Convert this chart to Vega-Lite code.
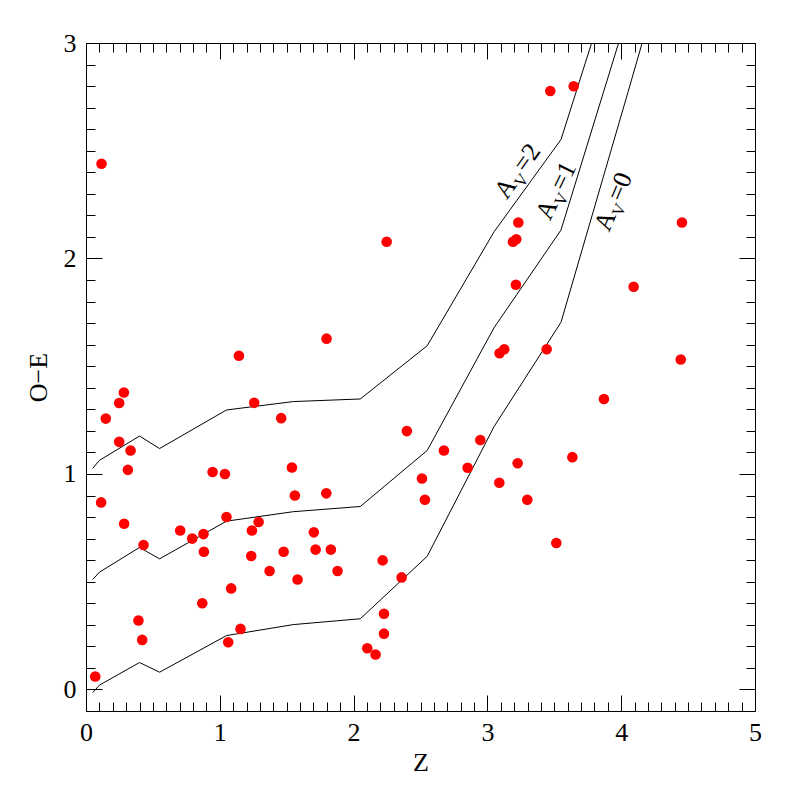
{
  "$schema": "https://vega.github.io/schema/vega-lite/v6.json",
  "width": 669,
  "height": 668,
  "autosize": {"type": "none"},
  "padding": {"left": 86, "top": 43, "right": 42, "bottom": 86},
  "background": "white",
  "config": {"view": {"stroke": null}, "font": "Liberation Serif"},
  "datasets": {
    "points": [
      {"z": 0.116, "oe": 2.44}, {"z": 0.069, "oe": 0.06}, {"z": 0.113, "oe": 0.868}, {"z": 0.148, "oe": 1.257},
      {"z": 0.248, "oe": 1.329}, {"z": 0.283, "oe": 1.378}, {"z": 0.248, "oe": 1.149}, {"z": 0.333, "oe": 1.109},
      {"z": 0.313, "oe": 1.019}, {"z": 0.285, "oe": 0.769}, {"z": 0.43, "oe": 0.67}, {"z": 0.392, "oe": 0.32},
      {"z": 0.42, "oe": 0.23}, {"z": 0.704, "oe": 0.738}, {"z": 0.794, "oe": 0.7}, {"z": 0.878, "oe": 0.721},
      {"z": 0.881, "oe": 0.639}, {"z": 0.869, "oe": 0.4}, {"z": 0.946, "oe": 1.009}, {"z": 1.038, "oe": 1.0},
      {"z": 1.05, "oe": 0.8}, {"z": 1.085, "oe": 0.469}, {"z": 1.063, "oe": 0.219}, {"z": 1.155, "oe": 0.281},
      {"z": 1.143, "oe": 1.549}, {"z": 1.257, "oe": 1.33}, {"z": 1.24, "oe": 0.738}, {"z": 1.29, "oe": 0.777},
      {"z": 1.235, "oe": 0.619}, {"z": 1.372, "oe": 0.55}, {"z": 1.477, "oe": 0.639}, {"z": 1.459, "oe": 1.259},
      {"z": 1.539, "oe": 1.03}, {"z": 1.561, "oe": 0.9}, {"z": 1.581, "oe": 0.51}, {"z": 1.703, "oe": 0.729},
      {"z": 1.716, "oe": 0.649}, {"z": 1.83, "oe": 0.649}, {"z": 1.88, "oe": 0.55}, {"z": 1.796, "oe": 0.91},
      {"z": 1.798, "oe": 1.628}, {"z": 2.247, "oe": 2.078}, {"z": 2.102, "oe": 0.191}, {"z": 2.164, "oe": 0.162},
      {"z": 2.217, "oe": 0.599}, {"z": 2.227, "oe": 0.351}, {"z": 2.227, "oe": 0.259}, {"z": 2.359, "oe": 0.52},
      {"z": 2.398, "oe": 1.199}, {"z": 2.511, "oe": 0.979}, {"z": 2.533, "oe": 0.88}, {"z": 2.675, "oe": 1.109},
      {"z": 2.852, "oe": 1.029}, {"z": 2.947, "oe": 1.158}, {"z": 3.089, "oe": 0.959}, {"z": 3.091, "oe": 1.56},
      {"z": 3.126, "oe": 1.579}, {"z": 3.191, "oe": 2.078}, {"z": 3.216, "oe": 2.089}, {"z": 3.231, "oe": 2.167},
      {"z": 3.213, "oe": 1.878}, {"z": 3.226, "oe": 1.05}, {"z": 3.298, "oe": 0.88}, {"z": 3.443, "oe": 1.579},
      {"z": 3.47, "oe": 2.777}, {"z": 3.515, "oe": 0.68}, {"z": 3.635, "oe": 1.078}, {"z": 3.645, "oe": 2.799},
      {"z": 3.871, "oe": 1.348}, {"z": 4.093, "oe": 1.869}, {"z": 4.445, "oe": 1.531}, {"z": 4.454, "oe": 2.167}
    ],
    "curves": [
      {"av": 0, "z": 0.05, "oe": -0.015}, {"av": 0, "z": 0.1, "oe": 0.02}, {"av": 0, "z": 0.4, "oe": 0.125},
      {"av": 0, "z": 0.55, "oe": 0.08}, {"av": 0, "z": 1.05, "oe": 0.25}, {"av": 0, "z": 1.55, "oe": 0.301},
      {"av": 0, "z": 2.05, "oe": 0.328}, {"av": 0, "z": 2.55, "oe": 0.618}, {"av": 0, "z": 3.05, "oe": 1.22},
      {"av": 0, "z": 3.55, "oe": 1.704}, {"av": 0, "z": 4.05, "oe": 2.77}, {"av": 0, "z": 4.55, "oe": 3.85},
      {"av": 1, "z": 0.05, "oe": 0.51}, {"av": 1, "z": 0.1, "oe": 0.544}, {"av": 1, "z": 0.4, "oe": 0.659},
      {"av": 1, "z": 0.55, "oe": 0.606}, {"av": 1, "z": 1.05, "oe": 0.781}, {"av": 1, "z": 1.55, "oe": 0.825},
      {"av": 1, "z": 2.05, "oe": 0.849}, {"av": 1, "z": 2.55, "oe": 1.109}, {"av": 1, "z": 3.05, "oe": 1.679},
      {"av": 1, "z": 3.55, "oe": 2.132}, {"av": 1, "z": 4.05, "oe": 3.14},
      {"av": 2, "z": 0.05, "oe": 1.026}, {"av": 2, "z": 0.1, "oe": 1.063}, {"av": 2, "z": 0.4, "oe": 1.176},
      {"av": 2, "z": 0.55, "oe": 1.118}, {"av": 2, "z": 1.05, "oe": 1.297}, {"av": 2, "z": 1.55, "oe": 1.336},
      {"av": 2, "z": 2.05, "oe": 1.348}, {"av": 2, "z": 2.55, "oe": 1.595}, {"av": 2, "z": 3.05, "oe": 2.124},
      {"av": 2, "z": 3.55, "oe": 2.552}, {"av": 2, "z": 4.05, "oe": 3.53}
    ],
    "labels": [
      {"eq": "=2", "z": 3.225, "oe": 2.34, "angle": -55},
      {"eq": "=1", "z": 3.53, "oe": 2.25, "angle": -64},
      {"eq": "=0", "z": 3.963, "oe": 2.2, "angle": -67}
    ]
  },
  "resolve": {"axis": {"x": "independent", "y": "independent"}},
  "layer": [
    {
      "data": {"name": "curves"},
      "mark": {"type": "line", "color": "black", "strokeWidth": 1, "clip": true},
      "encoding": {
        "x": {"field": "z", "type": "quantitative", "scale": {"domain": [0, 5], "nice": false, "zero": false},
          "axis": {"orient": "top", "title": null, "labels": false, "grid": false, "domainColor": "black", "tickColor": "black",
            "values": [0,0.1,0.2,0.3,0.4,0.5,0.6,0.7,0.8,0.9,1,1.1,1.2,1.3,1.4,1.5,1.6,1.7,1.8,1.9,2,2.1,2.2,2.3,2.4,2.5,2.6,2.7,2.8,2.9,3,3.1,3.2,3.3,3.4,3.5,3.6,3.7,3.8,3.9,4,4.1,4.2,4.3,4.4,4.5,4.6,4.7,4.8,4.9,5],
            "tickSize": {"condition": {"test": "abs(datum.value - round(datum.value)) < 0.001", "value": -16}, "value": -9}}},
        "y": {"field": "oe", "type": "quantitative", "scale": {"domain": [-0.1, 3], "nice": false, "zero": false},
          "axis": {"orient": "right", "title": null, "labels": false, "grid": false, "domainColor": "black", "tickColor": "black",
            "values": [0,0.1,0.2,0.3,0.4,0.5,0.6,0.7,0.8,0.9,1,1.1,1.2,1.3,1.4,1.5,1.6,1.7,1.8,1.9,2,2.1,2.2,2.3,2.4,2.5,2.6,2.7,2.8,2.9,3],
            "tickSize": {"condition": {"test": "abs(datum.value - round(datum.value)) < 0.001", "value": -16}, "value": -9}}},
        "detail": {"field": "av", "type": "nominal"}
      }
    },
    {
      "data": {"name": "points"},
      "mark": {"type": "circle", "color": "#ff0000", "opacity": 1, "size": 112},
      "encoding": {
        "x": {"field": "z", "type": "quantitative", "scale": {"domain": [0, 5], "nice": false, "zero": false},
          "axis": {"orient": "bottom", "title": "Z", "grid": false, "domainColor": "black", "tickColor": "black",
            "values": [0,0.1,0.2,0.3,0.4,0.5,0.6,0.7,0.8,0.9,1,1.1,1.2,1.3,1.4,1.5,1.6,1.7,1.8,1.9,2,2.1,2.2,2.3,2.4,2.5,2.6,2.7,2.8,2.9,3,3.1,3.2,3.3,3.4,3.5,3.6,3.7,3.8,3.9,4,4.1,4.2,4.3,4.4,4.5,4.6,4.7,4.8,4.9,5],
            "tickSize": {"condition": {"test": "abs(datum.value - round(datum.value)) < 0.001", "value": -16}, "value": -9},
            "labelExpr": "abs(datum.value - round(datum.value)) < 0.001 ? format(datum.value, 'd') : ''",
            "labelFont": "Liberation Serif", "labelFontSize": 26, "labelColor": "black", "labelPadding": 24, "labelFlush": false,
            "titleFont": "Liberation Serif", "titleFontSize": 26, "titleFontWeight": "normal", "titleColor": "black", "titlePadding": 4}},
        "y": {"field": "oe", "type": "quantitative", "scale": {"domain": [-0.1, 3], "nice": false, "zero": false},
          "axis": {"orient": "left", "title": "O−E", "grid": false, "domainColor": "black", "tickColor": "black",
            "values": [0,0.1,0.2,0.3,0.4,0.5,0.6,0.7,0.8,0.9,1,1.1,1.2,1.3,1.4,1.5,1.6,1.7,1.8,1.9,2,2.1,2.2,2.3,2.4,2.5,2.6,2.7,2.8,2.9,3],
            "tickSize": {"condition": {"test": "abs(datum.value - round(datum.value)) < 0.001", "value": -16}, "value": -9},
            "labelExpr": "abs(datum.value - round(datum.value)) < 0.001 ? format(datum.value, 'd') : ''",
            "labelFont": "Liberation Serif", "labelFontSize": 26, "labelColor": "black", "labelPadding": 26, "labelFlush": false,
            "titleFont": "Liberation Serif", "titleFontSize": 26, "titleFontWeight": "normal", "titleColor": "black", "titlePadding": 12}}
      }
    },
    {
      "data": {"name": "labels"},
      "mark": {"type": "text", "text": "A", "align": "right", "baseline": "alphabetic", "font": "Liberation Serif", "fontSize": 26, "color": "black"},
      "encoding": {
        "x": {"field": "z", "type": "quantitative", "axis": null},
        "y": {"field": "oe", "type": "quantitative", "axis": null},
        "angle": {"field": "angle", "type": "quantitative", "scale": null}
      }
    },
    {
      "data": {"name": "labels"},
      "mark": {"type": "text", "text": "V", "align": "left", "baseline": "alphabetic", "font": "Liberation Serif", "fontSize": 17, "dx": 0, "dy": 6, "color": "black"},
      "encoding": {
        "x": {"field": "z", "type": "quantitative", "axis": null},
        "y": {"field": "oe", "type": "quantitative", "axis": null},
        "angle": {"field": "angle", "type": "quantitative", "scale": null}
      }
    },
    {
      "data": {"name": "labels"},
      "mark": {"type": "text", "align": "left", "baseline": "alphabetic", "font": "Liberation Serif", "fontSize": 26, "dx": 14, "color": "black"},
      "encoding": {
        "x": {"field": "z", "type": "quantitative", "axis": null},
        "y": {"field": "oe", "type": "quantitative", "axis": null},
        "angle": {"field": "angle", "type": "quantitative", "scale": null},
        "text": {"field": "eq", "type": "nominal"}
      }
    }
  ]
}
